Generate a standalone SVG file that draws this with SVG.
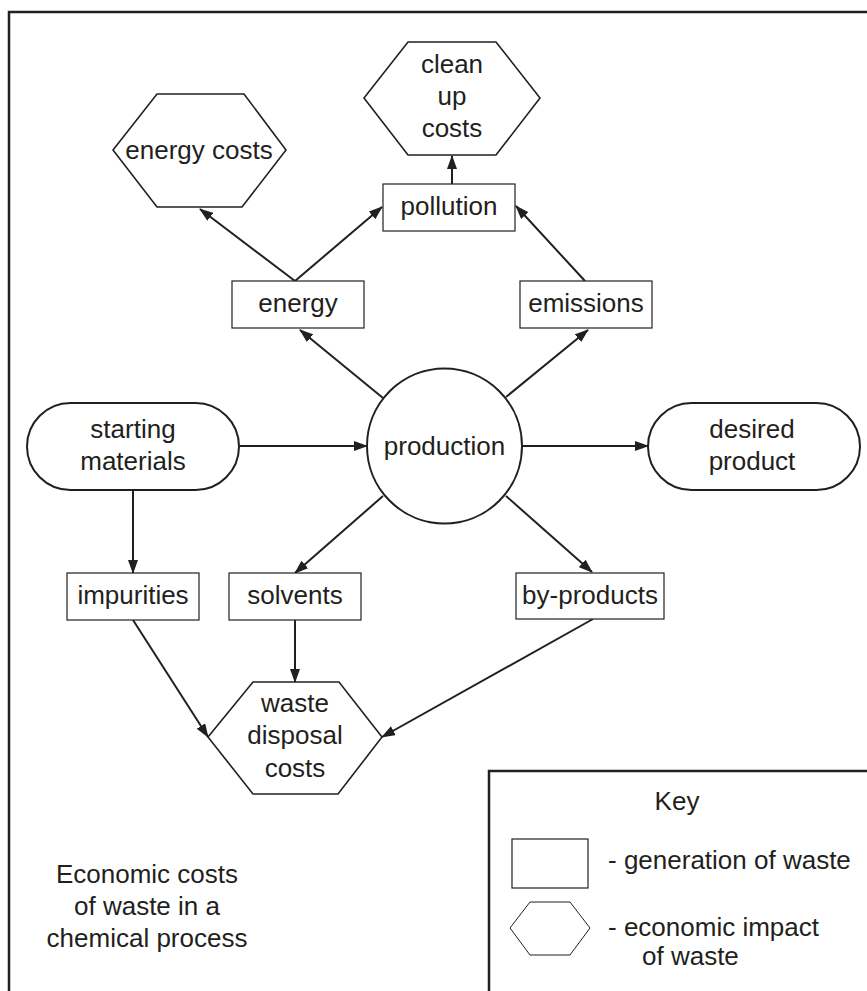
<svg xmlns="http://www.w3.org/2000/svg" width="867" height="991" viewBox="0 0 867 991">
<style>
text{font-family:"Liberation Sans",Arial,sans-serif;font-size:26px;fill:#231f20;text-anchor:middle}
.box{fill:#fff;stroke:#231f20;stroke-width:1.2}
.hex{fill:#fff;stroke:#231f20;stroke-width:1.6}
.term{fill:#fff;stroke:#231f20;stroke-width:2}
.frame{fill:none;stroke:#231f20;stroke-width:2.5}
.edge{fill:none;stroke:#231f20;stroke-width:2;marker-end:url(#ah)}
.lt{text-anchor:start}
</style>
<defs>
<marker id="ah" markerUnits="userSpaceOnUse" markerWidth="14" markerHeight="10" refX="13" refY="5" orient="auto">
<path d="M0,0 L14,5 L0,10 Z" fill="#231f20"/>
</marker>
</defs>
<rect width="867" height="991" fill="#fff"/>
<path class="frame" d="M9,995 V12 H870"/>
<g id="edges">
<line class="edge" x1="452" y1="184" x2="452" y2="156"/>
<line class="edge" x1="295" y1="281" x2="200" y2="209"/>
<line class="edge" x1="295" y1="281" x2="382" y2="207"/>
<line class="edge" x1="585" y1="281" x2="516" y2="206"/>
<line class="edge" x1="383" y1="398" x2="300" y2="330"/>
<line class="edge" x1="506" y1="397" x2="588" y2="330"/>
<line class="edge" x1="522" y1="446" x2="648" y2="446"/>
<line class="edge" x1="239" y1="446" x2="367" y2="446"/>
<line class="edge" x1="133" y1="490" x2="133" y2="573"/>
<line class="edge" x1="383" y1="496" x2="295" y2="573"/>
<line class="edge" x1="506" y1="496" x2="592" y2="572"/>
<line class="edge" x1="295" y1="620" x2="295" y2="682"/>
<line class="edge" x1="133" y1="620" x2="208" y2="737"/>
<line class="edge" x1="593" y1="619" x2="382" y2="737"/>
</g>
<g id="clean-up-costs">
<polygon class="hex" points="408,42 496,42 540,98 496,155 408,155 364,98"/>
<text x="452" y="73">clean</text>
<text x="452" y="105">up</text>
<text x="452" y="137">costs</text>
</g>
<g id="energy-costs">
<polygon class="hex" points="157,94 244,94 286,150 242,207 157,207 113,150"/>
<text x="199" y="159">energy costs</text>
</g>
<g id="pollution">
<rect class="box" x="383" y="184" width="132" height="47"/>
<text x="449" y="215">pollution</text>
</g>
<g id="energy">
<rect class="box" x="232" y="281" width="132" height="47"/>
<text x="298" y="312">energy</text>
</g>
<g id="emissions">
<rect class="box" x="520" y="281" width="132" height="47"/>
<text x="586" y="312">emissions</text>
</g>
<g id="starting-materials">
<rect class="term" x="27" y="403" width="212" height="87" rx="43.5"/>
<text x="133" y="438">starting</text>
<text x="133" y="470">materials</text>
</g>
<g id="production">
<circle class="term" cx="444.5" cy="446" r="77.5"/>
<text x="444.5" y="455">production</text>
</g>
<g id="desired-product">
<rect class="term" x="648" y="403" width="212" height="87" rx="43.5"/>
<text x="752" y="438">desired</text>
<text x="752" y="470">product</text>
</g>
<g id="impurities">
<rect class="box" x="67" y="573" width="132" height="47"/>
<text x="133" y="604">impurities</text>
</g>
<g id="solvents">
<rect class="box" x="229" y="573" width="132" height="47"/>
<text x="295" y="604">solvents</text>
</g>
<g id="by-products">
<rect class="box" x="516" y="573" width="148" height="46"/>
<text x="590" y="604">by-products</text>
</g>
<g id="waste-disposal-costs">
<polygon class="hex" points="253,682 339,682 382,737 338,794 253,794 208,737"/>
<text x="295" y="712">waste</text>
<text x="295" y="744">disposal</text>
<text x="295" y="777">costs</text>
</g>
<g id="title">
<text x="147" y="883">Economic costs</text>
<text x="147" y="915">of waste in a</text>
<text x="147" y="947">chemical process</text>
</g>
<g id="key">
<path class="frame" d="M489,995 V771 H870"/>
<text x="677" y="810">Key</text>
<rect class="box" x="512" y="839" width="76" height="49"/>
<text class="lt" x="608" y="869">- generation of waste</text>
<polygon class="hex" style="stroke-width:1" points="530,902 570,902 590,928 570,955 530,955 510,928"/>
<text class="lt" x="608" y="936">- economic impact</text>
<text class="lt" x="642" y="965">of waste</text>
</g>
</svg>
